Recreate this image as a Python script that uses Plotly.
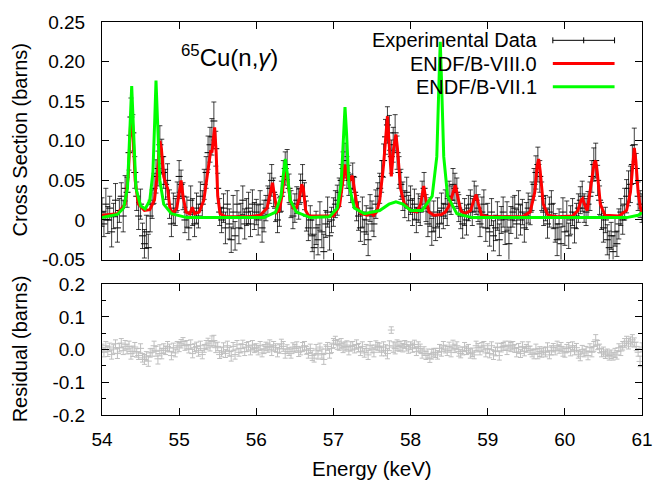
import plotly.graph_objects as go

# ---------------------------------------------------------------------------
# Measured 65Cu(n,gamma) capture cross section, 54-61 keV
# ---------------------------------------------------------------------------
E_START = 54.0      # keV, first bin
E_STEP = 0.025      # keV, bin width

xs_data = [
    0.010, -0.005, 0.020, 0.000, 0.015, -0.015, 0.005, 0.025, -0.010, 0.012,
    0.030, 0.005, 0.040, 0.035, 0.085, 0.130, 0.110, 0.060, 0.030, 0.005,
    0.020, -0.020, -0.030, -0.015, -0.035, 0.005, 0.020, 0.040, 0.055, 0.065,
    0.095, 0.080, 0.060, 0.045, 0.050, 0.020, -0.005, 0.015, 0.010, 0.030,
    0.055, 0.045, 0.030, 0.000, 0.010, -0.010, 0.025, 0.010, -0.005, 0.015,
    0.005, 0.030, 0.020, 0.045, 0.060, 0.085, 0.095, 0.105, 0.125, 0.090,
    0.040, 0.010, 0.000, 0.015, -0.010, 0.020, -0.005, -0.025, 0.010, -0.020,
    0.020, -0.010, 0.005, 0.025, -0.005, 0.010, 0.015, -0.005, 0.020, 0.005,
    0.010, 0.000, 0.020, -0.010, 0.005, 0.015, 0.025, 0.040, 0.050, 0.035,
    0.015, 0.000, 0.010, 0.030, 0.055, 0.065, 0.070, 0.040, 0.020, 0.005,
    0.015, 0.025, 0.020, 0.040, 0.050, 0.030, 0.005, -0.010, 0.000, -0.020,
    -0.035, -0.010, -0.025, 0.005, -0.015, -0.040, -0.005, 0.010, -0.020, 0.000,
    0.010, 0.020, 0.025, 0.035, 0.050, 0.065, 0.075, 0.060, 0.050, 0.040,
    0.055, 0.035, 0.015, 0.005, -0.010, 0.010, -0.015, 0.000, -0.025, 0.015,
    0.005, -0.005, 0.020, 0.030, 0.040, 0.055, 0.075, 0.105, 0.120, 0.110,
    0.080, 0.095, 0.110, 0.085, 0.060, 0.045, 0.030, 0.020, 0.035, 0.015,
    0.025, 0.010, 0.020, 0.000, 0.015, 0.010, 0.030, 0.040, 0.015, -0.005,
    0.010, -0.015, 0.005, -0.010, 0.010, -0.005, 0.015, 0.005, 0.020, 0.010,
    0.030, 0.025, 0.045, 0.040, 0.035, 0.015, 0.005, -0.005, 0.010, 0.000,
    0.015, 0.020, 0.010, 0.030, 0.025, 0.015, -0.005, 0.010, 0.020, -0.010,
    0.005, -0.015, 0.010, -0.020, -0.010, 0.005, -0.025, 0.000, 0.010, -0.015,
    0.005, -0.030, 0.000, 0.010, 0.015, -0.005, 0.020, 0.000, 0.010, -0.010,
    0.005, 0.015, 0.010, 0.030, 0.045, 0.060, 0.070, 0.055, 0.030, 0.010,
    0.015, -0.005, 0.010, 0.020, 0.005, -0.010, -0.025, -0.005, -0.030, 0.010,
    -0.015, 0.005, -0.020, 0.000, 0.010, -0.010, 0.005, 0.015, 0.025, 0.030,
    0.015, 0.010, 0.020, 0.030, 0.055, 0.070, 0.075, 0.050, 0.025, 0.005,
    -0.010, 0.000, -0.025, -0.035, -0.020, -0.040, -0.015, -0.030, -0.005, 0.010,
    0.000, 0.020, 0.030, 0.040, 0.045, 0.070, 0.095, 0.065, 0.030, 0.020,
    0.015,
]

xs_err = [
    0.018, 0.016, 0.020, 0.017, 0.015, 0.019, 0.016, 0.021, 0.018, 0.015,
    0.017, 0.020, 0.016, 0.019, 0.022, 0.024, 0.023, 0.020, 0.018, 0.017,
    0.019, 0.016, 0.018, 0.021, 0.017, 0.020, 0.018, 0.019, 0.021, 0.022,
    0.024, 0.022, 0.020, 0.019, 0.021, 0.018, 0.016, 0.019, 0.017, 0.018,
    0.020, 0.018, 0.017, 0.016, 0.019, 0.015, 0.018, 0.017, 0.016, 0.019,
    0.015, 0.018, 0.017, 0.019, 0.020, 0.021, 0.022, 0.023, 0.024, 0.022,
    0.019, 0.017, 0.016, 0.018, 0.020, 0.017, 0.019, 0.016, 0.021, 0.018,
    0.017, 0.020, 0.016, 0.018, 0.019, 0.017, 0.020, 0.016, 0.018, 0.017,
    0.016, 0.019, 0.017, 0.018, 0.020, 0.016, 0.018, 0.019, 0.020, 0.018,
    0.017, 0.016, 0.018, 0.019, 0.020, 0.021, 0.019, 0.018, 0.017, 0.016,
    0.018, 0.017, 0.019, 0.018, 0.020, 0.017, 0.019, 0.016, 0.018, 0.020,
    0.017, 0.021, 0.019, 0.018, 0.020, 0.022, 0.017, 0.019, 0.018, 0.016,
    0.018, 0.017, 0.019, 0.018, 0.020, 0.021, 0.022, 0.020, 0.019, 0.018,
    0.017, 0.019, 0.016, 0.018, 0.017, 0.019, 0.016, 0.018, 0.020, 0.017,
    0.019, 0.016, 0.018, 0.017, 0.019, 0.020, 0.021, 0.022, 0.023, 0.022,
    0.021, 0.022, 0.023, 0.021, 0.020, 0.019, 0.018, 0.017, 0.019, 0.016,
    0.018, 0.017, 0.019, 0.016, 0.018, 0.017, 0.019, 0.020, 0.017, 0.016,
    0.018, 0.017, 0.019, 0.016, 0.018, 0.017, 0.019, 0.016, 0.018, 0.017,
    0.019, 0.018, 0.020, 0.019, 0.018, 0.017, 0.016, 0.018, 0.017, 0.019,
    0.016, 0.018, 0.017, 0.019, 0.018, 0.017, 0.016, 0.019, 0.018, 0.017,
    0.016, 0.018, 0.017, 0.019, 0.016, 0.018, 0.020, 0.017, 0.019, 0.016,
    0.018, 0.021, 0.017, 0.019, 0.016, 0.018, 0.017, 0.019, 0.016, 0.018,
    0.017, 0.019, 0.016, 0.018, 0.020, 0.021, 0.022, 0.020, 0.018, 0.017,
    0.016, 0.018, 0.019, 0.017, 0.016, 0.018, 0.020, 0.019, 0.021, 0.018,
    0.017, 0.019, 0.016, 0.018, 0.017, 0.019, 0.016, 0.018, 0.017, 0.019,
    0.018, 0.017, 0.016, 0.018, 0.020, 0.021, 0.022, 0.019, 0.018, 0.017,
    0.018, 0.016, 0.019, 0.021, 0.017, 0.020, 0.018, 0.016, 0.019, 0.017,
    0.018, 0.020, 0.021, 0.022, 0.023, 0.024, 0.021, 0.019, 0.018, 0.017,
    0.018,
]

# Residuals of the fit, same energy bins
resid = [
    0.005, -0.008, 0.012, -0.006, 0.008, -0.015, 0.002, 0.018, -0.012, 0.006,
    0.020, -0.003, 0.015, 0.002, 0.010, -0.012, -0.005, 0.008, -0.010, -0.018,
    0.004, -0.025, -0.030, -0.020, -0.035, -0.010, -0.008, 0.012, -0.005, -0.028,
    -0.002, -0.012, 0.004, -0.002, 0.010, 0.005, -0.018, 0.006, -0.010, 0.012,
    0.008, 0.018, 0.025, 0.012, 0.015, 0.002, 0.016, -0.012, 0.006, 0.010,
    -0.008, 0.012, -0.015, 0.004, 0.014, 0.020, 0.012, 0.025, 0.028, 0.006,
    0.010, -0.015, -0.008, 0.008, -0.012, 0.012, -0.006, -0.020, 0.010, -0.015,
    0.015, -0.008, 0.004, 0.016, -0.006, 0.008, 0.012, -0.004, 0.014, 0.004,
    0.006, -0.002, 0.012, -0.010, 0.002, 0.010, 0.006, 0.015, -0.004, 0.012,
    0.006, -0.008, 0.002, 0.018, 0.010, -0.012, 0.002, -0.006, -0.012, 0.008,
    0.004, 0.010, -0.008, -0.004, 0.008, 0.012, -0.002, -0.012, 0.004, -0.018,
    -0.026, 0.002, -0.016, 0.008, -0.012, -0.030, 0.002, 0.010, -0.012, 0.004,
    0.020, 0.028, 0.016, 0.012, 0.018, 0.006, 0.010, 0.014, -0.004, 0.010,
    0.012, 0.002, 0.016, 0.006, -0.006, 0.010, -0.010, 0.004, -0.016, 0.012,
    0.002, -0.008, 0.014, 0.010, 0.006, -0.004, 0.008, -0.002, -0.012, 0.012,
    0.060, 0.008, 0.004, 0.014, 0.010, 0.012, 0.006, 0.016, 0.010, 0.002,
    0.012, 0.006, 0.016, -0.006, 0.010, 0.004, -0.012, -0.004, -0.018, -0.012,
    -0.026, -0.014, -0.008, -0.010, -0.016, 0.004, -0.006, 0.012, 0.002, -0.004,
    0.010, -0.008, 0.014, 0.004, 0.012, -0.006, -0.012, -0.004, 0.008, -0.002,
    0.004, -0.012, -0.008, -0.016, 0.012, 0.006, -0.004, 0.008, 0.012, -0.010,
    0.004, -0.012, 0.012, -0.016, -0.006, 0.008, -0.018, 0.006, 0.010, 0.012,
    -0.002, 0.014, 0.008, 0.012, 0.004, -0.008, 0.006, -0.012, 0.010, -0.006,
    0.004, 0.010, -0.002, -0.010, -0.014, 0.002, -0.012, -0.006, -0.010, -0.004,
    -0.008, 0.008, -0.016, -0.002, 0.006, -0.004, 0.012, 0.002, 0.010, -0.006,
    -0.010, 0.004, 0.008, -0.006, 0.012, -0.002, 0.006, -0.014, -0.020, 0.000,
    -0.010, -0.004, -0.018, 0.006, -0.008, 0.010, 0.030, 0.014, 0.004, -0.010,
    -0.006, -0.014, -0.010, -0.018, -0.014, -0.020, -0.010, -0.016, 0.006, -0.004,
    0.012, 0.020, 0.026, 0.018, 0.024, 0.030, 0.022, 0.010, -0.008, -0.036,
    0.008,
]

resid_err = [
    0.012, 0.014, 0.013, 0.015, 0.012, 0.014, 0.013, 0.012, 0.015, 0.013,
    0.014, 0.012, 0.013, 0.015, 0.016, 0.017, 0.016, 0.014, 0.013, 0.012,
    0.014, 0.013, 0.015, 0.014, 0.016, 0.013, 0.012, 0.014, 0.015, 0.016,
    0.017, 0.016, 0.014, 0.013, 0.015, 0.012, 0.013, 0.014, 0.012, 0.013,
    0.014, 0.013, 0.012, 0.014, 0.013, 0.012, 0.014, 0.013, 0.012, 0.013,
    0.012, 0.014, 0.013, 0.012, 0.014, 0.015, 0.016, 0.017, 0.016, 0.015,
    0.013, 0.012, 0.014, 0.013, 0.012, 0.014, 0.013, 0.015, 0.012, 0.014,
    0.013, 0.012, 0.014, 0.013, 0.012, 0.014, 0.013, 0.012, 0.014, 0.013,
    0.012, 0.014, 0.013, 0.012, 0.014, 0.013, 0.014, 0.015, 0.014, 0.013,
    0.012, 0.014, 0.013, 0.014, 0.015, 0.014, 0.013, 0.012, 0.014, 0.013,
    0.012, 0.014, 0.013, 0.012, 0.014, 0.013, 0.012, 0.014, 0.013, 0.015,
    0.012, 0.014, 0.013, 0.012, 0.014, 0.015, 0.013, 0.012, 0.014, 0.013,
    0.014, 0.013, 0.015, 0.014, 0.016, 0.015, 0.014, 0.013, 0.012, 0.014,
    0.013, 0.012, 0.014, 0.013, 0.012, 0.014, 0.013, 0.012, 0.014, 0.013,
    0.012, 0.014, 0.013, 0.012, 0.014, 0.015, 0.016, 0.017, 0.016, 0.015,
    0.010, 0.016, 0.017, 0.016, 0.015, 0.014, 0.013, 0.012, 0.014, 0.013,
    0.012, 0.014, 0.013, 0.012, 0.014, 0.013, 0.014, 0.013, 0.012, 0.014,
    0.013, 0.015, 0.012, 0.014, 0.013, 0.012, 0.014, 0.013, 0.012, 0.014,
    0.013, 0.014, 0.015, 0.013, 0.012, 0.014, 0.013, 0.012, 0.014, 0.013,
    0.012, 0.014, 0.013, 0.012, 0.014, 0.013, 0.012, 0.014, 0.013, 0.012,
    0.014, 0.013, 0.012, 0.014, 0.013, 0.012, 0.014, 0.013, 0.012, 0.014,
    0.013, 0.012, 0.014, 0.013, 0.012, 0.014, 0.013, 0.012, 0.014, 0.013,
    0.012, 0.014, 0.013, 0.012, 0.014, 0.015, 0.016, 0.015, 0.013, 0.012,
    0.014, 0.013, 0.012, 0.014, 0.013, 0.012, 0.014, 0.013, 0.012, 0.014,
    0.013, 0.012, 0.014, 0.013, 0.012, 0.014, 0.013, 0.012, 0.014, 0.013,
    0.012, 0.014, 0.013, 0.012, 0.014, 0.015, 0.016, 0.014, 0.013, 0.012,
    0.014, 0.013, 0.012, 0.014, 0.013, 0.012, 0.014, 0.013, 0.012, 0.014,
    0.013, 0.014, 0.015, 0.016, 0.015, 0.016, 0.014, 0.013, 0.012, 0.016,
    0.013,
]

energy = [round(E_START + i * E_STEP, 3) for i in range(len(xs_data))]

# ---------------------------------------------------------------------------
# Evaluated cross sections (pointwise, keV / barns)
# ---------------------------------------------------------------------------
endf8_e = [
    54.00, 54.20, 54.30, 54.34, 54.37, 54.385, 54.40, 54.43, 54.47, 54.55,
    54.62, 54.68, 54.72, 54.75, 54.77, 54.80, 54.83, 54.85, 54.88, 54.92,
    54.97, 55.00, 55.025, 55.05, 55.09, 55.14, 55.17, 55.20, 55.26, 55.32,
    55.37, 55.41, 55.425, 55.445, 55.46, 55.48, 55.50, 55.53, 55.60, 55.90,
    56.05, 56.14, 56.18, 56.21, 56.24, 56.27, 56.30, 56.34, 56.365, 56.38,
    56.40, 56.44, 56.48, 56.52, 56.56, 56.59, 56.61, 56.64, 56.68, 57.00,
    57.08, 57.12, 57.15, 57.18, 57.21, 57.245, 57.27, 57.31, 57.36, 57.44,
    57.49, 57.52, 57.56, 57.60, 57.65, 57.685, 57.70, 57.72, 57.75, 57.78,
    57.81, 57.83, 57.87, 57.92, 58.00, 58.08, 58.13, 58.17, 58.20, 58.24,
    58.30, 58.40, 58.45, 58.50, 58.55, 58.58, 58.61, 58.65, 58.70, 58.78,
    58.82, 58.85, 58.88, 58.92, 59.00, 59.45, 59.55, 59.61, 59.64, 59.66,
    59.68, 59.72, 59.78, 59.90, 60.10, 60.17, 60.21, 60.23, 60.26, 60.29,
    60.34, 60.38, 60.40, 60.42, 60.46, 60.52, 60.70, 60.80, 60.85, 60.88,
    60.90, 60.92, 60.95, 60.98, 61.00,
]
endf8_xs = [
    0.006, 0.008, 0.020, 0.055, 0.120, 0.135, 0.115, 0.050, 0.020, 0.012,
    0.013, 0.025, 0.060, 0.100, 0.090, 0.055, 0.045, 0.040, 0.015, 0.008,
    0.015, 0.035, 0.050, 0.030, 0.010, 0.008, 0.016, 0.008, 0.010, 0.025,
    0.060, 0.088, 0.085, 0.110, 0.117, 0.085, 0.030, 0.008, 0.004, 0.004,
    0.006, 0.015, 0.035, 0.047, 0.028, 0.010, 0.012, 0.035, 0.060, 0.066,
    0.055, 0.025, 0.015, 0.015, 0.028, 0.045, 0.040, 0.012, 0.005, 0.005,
    0.018, 0.050, 0.070, 0.052, 0.050, 0.056, 0.040, 0.015, 0.008, 0.006,
    0.009, 0.006, 0.010, 0.025, 0.070, 0.120, 0.131, 0.100, 0.055, 0.090,
    0.108, 0.090, 0.040, 0.020, 0.012, 0.010, 0.020, 0.043, 0.025, 0.010,
    0.006, 0.007, 0.010, 0.018, 0.035, 0.044, 0.030, 0.012, 0.008, 0.012,
    0.025, 0.032, 0.020, 0.006, 0.004, 0.004, 0.010, 0.035, 0.068, 0.077,
    0.062, 0.020, 0.006, 0.004, 0.005, 0.012, 0.025, 0.027, 0.018, 0.012,
    0.045, 0.072, 0.075, 0.060, 0.020, 0.006, 0.005, 0.012, 0.035, 0.075,
    0.091, 0.075, 0.035, 0.015, 0.010,
]

endf7_e = [
    54.00, 54.20, 54.28, 54.33, 54.36, 54.385, 54.41, 54.44, 54.50, 54.56,
    54.62, 54.66, 54.685, 54.70, 54.72, 54.75, 54.80, 54.90, 55.10, 56.10,
    56.25, 56.32, 56.36, 56.376, 56.40, 56.44, 56.52, 56.70, 56.95, 57.05,
    57.10, 57.13, 57.15, 57.17, 57.20, 57.27, 57.40, 57.60, 57.72, 57.81,
    57.90, 58.00, 58.15, 58.28, 58.34, 58.37, 58.385, 58.40, 58.43, 58.48,
    58.60, 58.80, 60.80, 60.95, 61.00,
]
endf7_xs = [
    0.003, 0.007, 0.015, 0.040, 0.110, 0.169, 0.110, 0.040, 0.018, 0.014,
    0.025, 0.060, 0.130, 0.176, 0.125, 0.050, 0.020, 0.008, 0.003, 0.003,
    0.010, 0.030, 0.065, 0.077, 0.060, 0.025, 0.010, 0.003, 0.004, 0.015,
    0.045, 0.110, 0.1425, 0.110, 0.045, 0.015, 0.008, 0.012, 0.020, 0.023,
    0.020, 0.012, 0.012, 0.030, 0.080, 0.180, 0.225, 0.180, 0.080, 0.030,
    0.008, 0.003, 0.003, 0.006, 0.009,
]

# Axis ticks
x_ticks = [54, 55, 56, 57, 58, 59, 60, 61]
y_top_ticks = [-0.05, 0.0, 0.05, 0.10, 0.15, 0.20, 0.25]
y_top_labels = ["-0.05", "0", "0.05", "0.10", "0.15", "0.20", "0.25"]
y_bot_ticks = [-0.2, -0.1, 0.0, 0.1, 0.2]
y_bot_labels = ["-0.2", "-0.1", "0.0", "0.1", "0.2"]

legend_labels = ["Experimental Data", "ENDF/B-VIII.0", "ENDF/B-VII.1"]
RED = "#ff0000"
GREEN = "#00ff00"
GREY = "#bfbfbf"

# ---------------------------------------------------------------------------
# Page geometry (pixels)
# ---------------------------------------------------------------------------
W, H = 665, 481
ML, MR, MT, MB = 102, 12, 18, 66
PW, PH = W - ML - MR, H - MT - MB


def px_x(px):
    return (px - ML) / PW


def px_y(py):
    return (H - MB - py) / PH


FONT = "Liberation Sans, Arial, Helvetica, sans-serif"

fig = go.Figure()

fig.add_trace(go.Scatter(
    x=energy, y=xs_data, mode="markers", xaxis="x", yaxis="y",
    marker=dict(symbol="line-ew", size=5, color="black",
                line=dict(width=1, color="black")),
    error_y=dict(type="data", array=xs_err, visible=True,
                 color="rgba(0,0,0,0.75)", thickness=1, width=2.5),
    showlegend=False,
))
fig.add_trace(go.Scatter(
    x=endf8_e, y=endf8_xs, mode="lines", xaxis="x", yaxis="y",
    line=dict(color=RED, width=3), showlegend=False,
))
fig.add_trace(go.Scatter(
    x=endf7_e, y=endf7_xs, mode="lines", xaxis="x", yaxis="y",
    line=dict(color=GREEN, width=3), showlegend=False,
))
fig.add_trace(go.Scatter(
    x=energy, y=resid, mode="markers", xaxis="x2", yaxis="y2",
    marker=dict(symbol="line-ew", size=5, color=GREY,
                line=dict(width=1, color=GREY)),
    error_y=dict(type="data", array=resid_err, visible=True,
                 color=GREY, thickness=1, width=2.5),
    showlegend=False,
))

axis_common = dict(
    showline=True, linecolor="black", linewidth=1, mirror="ticks",
    ticks="inside", ticklen=7, tickcolor="black", tickwidth=1,
    showgrid=False, zeroline=False,
    tickfont=dict(family=FONT, size=19, color="black"),
)

top_bottom = px_y(258)
bot_top = px_y(283)

fig.update_layout(
    width=W, height=H,
    margin=dict(l=ML, r=MR, t=MT, b=MB),
    paper_bgcolor="white", plot_bgcolor="white",
    font=dict(family=FONT, color="black"),
    xaxis=dict(domain=[0, 1], anchor="y", range=[54, 61],
               tickvals=x_ticks, showticklabels=False, **axis_common),
    yaxis=dict(domain=[top_bottom, 1], anchor="x", range=[-0.05, 0.25],
               tickvals=y_top_ticks, ticktext=y_top_labels,
               ticklabelstandoff=12, **axis_common),
    xaxis2=dict(domain=[0, 1], anchor="y2", range=[54, 61],
                tickvals=x_ticks, ticktext=[str(v) for v in x_ticks],
                ticklabelstandoff=7, **axis_common),
    yaxis2=dict(domain=[0, bot_top], anchor="x2", range=[-0.2, 0.2],
                tickvals=y_bot_ticks, ticktext=y_bot_labels,
                ticklabelstandoff=12,
                minor=dict(ticks="inside", ticklen=4, tickcolor="black",
                           tickvals=[-0.15, -0.05, 0.05, 0.15]),
                **axis_common),
)

annotations = [
    dict(text="Cross Section (barns)", x=px_x(18), y=px_y(137),
         textangle=-90, font=dict(size=20)),
    dict(text="Residual (barns)", x=px_x(18), y=px_y(348),
         textangle=-90, font=dict(size=20)),
    dict(text="Energy (keV)", x=px_x(377.5), y=px_y(469),
         font=dict(size=20.5)),
    dict(text="<sup>65</sup>Cu(n,<i>γ</i>)", x=px_x(232), y=px_y(52),
         font=dict(size=24)),
]
for a in annotations:
    a.update(xref="paper", yref="paper", showarrow=False,
             xanchor="center", yanchor="middle")

# Key: right-justified text with the line samples to its right
key_rows = [36.5, 60, 83.5]
key_x0, key_x1 = 562, 625
for label, row in zip(legend_labels, key_rows):
    annotations.append(dict(
        text=label, x=px_x(548), y=px_y(row), xref="paper", yref="paper",
        showarrow=False, xanchor="right", yanchor="middle",
        font=dict(size=20)))

shapes = []
line_black = dict(color="black", width=1)
r0 = key_rows[0]
shapes.append(dict(type="line", xref="paper", yref="paper",
                   x0=px_x(key_x0), x1=px_x(key_x1),
                   y0=px_y(r0), y1=px_y(r0), line=line_black))
for cx in (key_x0, key_x1, (key_x0 + key_x1) / 2):
    shapes.append(dict(type="line", xref="paper", yref="paper",
                       x0=px_x(cx), x1=px_x(cx),
                       y0=px_y(r0 - 3), y1=px_y(r0 + 3), line=line_black))
for colour, row in zip([RED, GREEN], key_rows[1:]):
    shapes.append(dict(type="line", xref="paper", yref="paper",
                       x0=px_x(key_x0), x1=px_x(key_x1),
                       y0=px_y(row), y1=px_y(row),
                       line=dict(color=colour, width=3)))

fig.update_layout(annotations=annotations, shapes=shapes)

fig.write_html("out.html")
